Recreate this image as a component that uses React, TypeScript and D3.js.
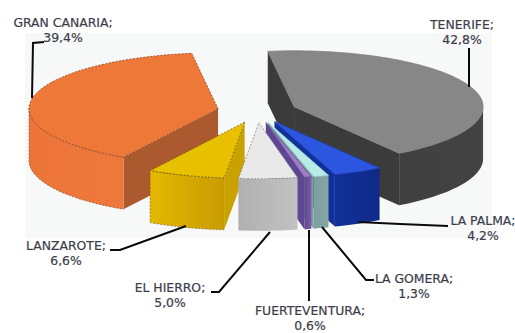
import React from "react";
import * as d3 from "d3";

// Island share of the total, clockwise from the first slice
const islands = ["TENERIFE", "LA PALMA", "LA GOMERA", "FUERTEVENTURA", "EL HIERRO", "LANZAROTE", "GRAN CANARIA"];
const shares = [42.8, 4.2, 1.3, 0.6, 5.0, 6.6, 39.4];
const shareLabels = ["42,8%", "4,2%", "1,3%", "0,6%", "5,0%", "6,6%", "39,4%"];

const topColors = ["#878787", "#2c55e0", "#b6ebe6", "#a17ccb", "#e9e9e9", "#e8c000", "#ee7838"];
const wallColors = ["#404040", "#12309a", "#7f9f9f", "#5f4690", "#b0b0b0", "#e4b800", "#ec7439"];
const wallEdgeColors = ["#434343", "#0f2a88", "#86a4a4", "#7a5fa8", "#c2c2c2", "#c89c00", "#ee783c"];
const sideColors = ["#3b3b3b", "#12309a", "#7f9f9f", "#5f4690", "#b4b4b4", "#c9a200", "#ab5a30"];
const outlineColors = ["#7a7a7a", "#1c3fb8", "#a0d8d4", "#5f4690", "#777777", "#6e5a10", "#7a3a18"];

const WIDTH = 515;
const HEIGHT = 333;
const CX = 257;
const CY = 111;
const RX = 189;
const RY = 56;
const DEPTH = 52;
const EXPLODE = 0.21;
const START = (-8 * Math.PI) / 180;

// Label centres and leader polylines, in draw order of the island list
const labelCentres: [number, number][] = [
  [462, 24], [483, 220], [414, 278], [310, 310], [170, 287], [66, 245], [63, 22],
];
const leaders: [number, number][][] = [
  [[469, 87], [469, 48]],
  [[358, 222], [400, 224], [448, 226]],
  [[322, 227], [366, 280], [374, 280]],
  [[309, 230], [309, 301]],
  [[211, 292], [219, 292], [270, 232]],
  [[110, 250], [120, 250], [186, 226]],
  [[32, 98], [33, 43], [44, 42]],
];

type P = [number, number];

const pieLayout = d3
  .pie<number>()
  .sort(null)
  .startAngle(START)
  .endAngle(START + 2 * Math.PI);

const line = d3.line<P>().x((d) => d[0]).y((d) => d[1]);

// Maps a pie angle and a radius (0..1) onto the tilted disc, pushed out along the slice's mid angle
function project(angle: number, r: number, mid: number): P {
  return [
    CX + RX * (r * Math.sin(angle) + EXPLODE * Math.sin(mid)),
    CY - RY * (r * Math.cos(angle) + EXPLODE * Math.cos(mid)),
  ];
}

const drop = (p: P): P => [p[0], p[1] + DEPTH];

export default function App() {
  const slices = pieLayout(shares).map((s, i) => {
    const mid = (s.startAngle + s.endAngle) / 2;
    const steps = Math.max(4, Math.ceil((s.endAngle - s.startAngle) * 30));
    const rim = d3.range(steps + 1).map((k) =>
      project(s.startAngle + ((s.endAngle - s.startAngle) * k) / steps, 1, mid)
    );
    const apex = project(mid, 0, mid);
    return { i, mid, rim, apex, depthKey: -Math.cos(mid) };
  });
  const ordered = [...slices].sort((a, b) => a.depthKey - b.depthKey);

  return (
    <svg
      width={WIDTH}
      height={HEIGHT}
      style={{ position: "fixed", left: 0, top: 0, background: "#fff" }}
    >
      <defs>
        {slices.map((s) => (
          <linearGradient key={s.i} id={`wall${s.i}`} x1="0" x2="1" y1="0" y2="0">
            <stop offset="0" stopColor={wallColors[s.i]} />
            <stop offset="1" stopColor={wallEdgeColors[s.i]} />
          </linearGradient>
        ))}
      </defs>
      <rect x={25} y={33} width={467} height={205} fill="#f7f8f8" />

      {ordered.map((s) => {
        const closing = [s.rim[s.rim.length - 1], s.apex] as P[];
        const opening = [s.apex, s.rim[0]] as P[];
        const flats = [opening, closing].filter(([a, b]) => b[0] < a[0]);
        const rimFront = s.rim.filter((p, k) => {
          const next = s.rim[k + 1];
          const prev = s.rim[k - 1];
          return (next && next[0] < p[0]) || (prev && p[0] < prev[0]);
        });
        const outline = [s.apex, ...s.rim];
        const dashed = s.i >= 4;
        return (
          <g key={s.i}>
            {flats.map(([a, b], k) => (
              <path
                key={k}
                d={line([a, b, drop(b), drop(a)])!}
                fill={sideColors[s.i]}
              />
            ))}
            {rimFront.length > 1 && (
              <path
                d={line([...rimFront, ...rimFront.map(drop).reverse()])!}
                fill={`url(#wall${s.i})`}
                stroke={s.i >= 5 ? outlineColors[s.i] : "none"}
                strokeWidth={0.6}
                strokeDasharray="2 1.5"
              />
            )}
            <path
              d={line(outline)! + "Z"}
              fill={topColors[s.i]}
              stroke={outlineColors[s.i]}
              strokeWidth={0.7}
              strokeDasharray={dashed ? "2 1.5" : undefined}
            />
          </g>
        );
      })}

      {leaders.map((pts, i) => (
        <path key={i} d={line(pts as P[])!} fill="none" stroke="#0a0a0a" strokeWidth={2} />
      ))}

      {islands.map((name, i) => (
        <text
          key={name}
          textAnchor="middle"
          fontFamily="'DejaVu Sans', sans-serif"
          fontSize={12.4}
          fill="#3c3c4a"
          stroke="#3c3c4a"
          strokeWidth={0.2}
        >
          <tspan x={labelCentres[i][0]} y={labelCentres[i][1] + 4.5}>{name};</tspan>
          <tspan x={labelCentres[i][0]} y={labelCentres[i][1] + 20}>{shareLabels[i]}</tspan>
        </text>
      ))}
    </svg>
  );
}
